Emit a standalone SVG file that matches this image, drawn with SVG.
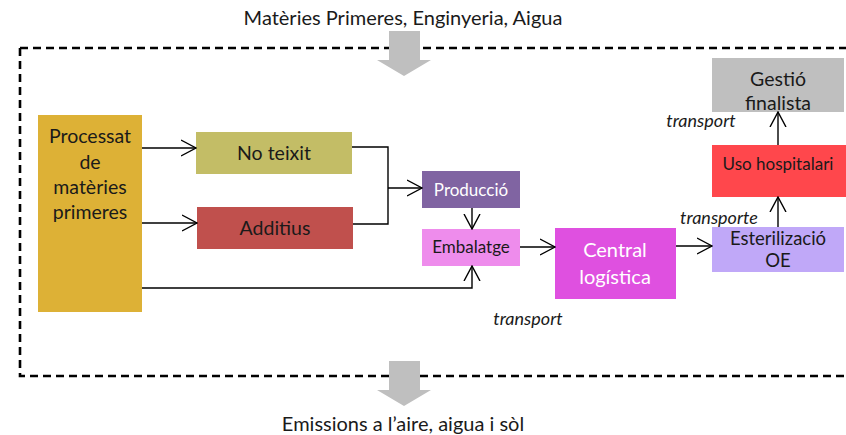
<svg xmlns="http://www.w3.org/2000/svg" width="846" height="435" viewBox="0 0 846 435">
<style>
text{font-family:Lato,"Open Sans","Liberation Sans",sans-serif;text-anchor:middle;fill:#1a1a1a}
.c{stroke:#000;stroke-width:1.4;fill:none}
.it{font-style:italic;font-size:18px}
.w{fill:#fff}
</style>
<defs>
<marker id="a" viewBox="0 0 16 18" refX="15" refY="9" markerWidth="16" markerHeight="18" markerUnits="userSpaceOnUse" orient="auto">
<path d="M0,1 L15,9 L0,17" fill="none" stroke="#000" stroke-width="1.4"/>
</marker>
</defs>
<rect width="846" height="435" fill="#fff"/>
<text x="403" y="25" font-size="20">Matèries Primeres, Enginyeria, Aigua</text>
<text x="403" y="431" font-size="20">Emissions a l’aire, aigua i sòl</text>
<path d="M20,48 H846 M20,48 V376 H846" fill="none" stroke="#000" stroke-width="2.6" stroke-dasharray="8,5"/>
<g id="arrow-in"><path d="M389,31 H420 V60 H431 L404,76 L377,60 H389 Z" fill="#bfbfbf"/></g>
<g id="arrow-out"><path d="M389,361 H420 V390 H431 L404,406 L377,390 H389 Z" fill="#bfbfbf"/></g>
<g id="processat"><rect x="38" y="115" width="104" height="197" fill="#DDB136"/>
<text x="90" y="143" font-size="19.5">Processat</text><text x="90" y="169" font-size="19.5">de</text><text x="90" y="194" font-size="19.5">matèries</text><text x="90" y="219" font-size="19.5">primeres</text></g>
<g id="noteixit"><rect x="196" y="132" width="156" height="42" fill="#C3BD66"/><text x="274" y="160" font-size="19.5">No teixit</text></g>
<g id="additius"><rect x="197" y="207" width="156" height="42" fill="#C0504D"/><text x="275" y="235" font-size="19.5">Additius</text></g>
<g id="produccio"><rect x="422" y="171" width="98" height="37" fill="#8064A2"/><text x="471" y="196" font-size="17" class="w">Producció</text></g>
<g id="embalatge"><rect x="422" y="229" width="98" height="37" fill="#EE8CEC"/><text x="471" y="253" font-size="17">Embalatge</text></g>
<g id="central"><rect x="555" y="228" width="121" height="71" fill="#DF50E0"/><text x="615" y="257" font-size="20" class="w">Central</text><text x="615" y="284" font-size="20" class="w">logística</text></g>
<g id="esteril"><rect x="712" y="227" width="132" height="45" fill="#C0A8F8"/><text x="778" y="245" font-size="18.5">Esterilizació</text><text x="778" y="267" font-size="18.5">OE</text></g>
<g id="uso"><rect x="712" y="145" width="134" height="52" fill="#FF474C"/><text x="778" y="170" font-size="17">Uso hospitalari</text></g>
<g id="gestio"><rect x="712" y="58" width="132" height="54" fill="#BFBFBF"/><text x="778" y="86" font-size="19.5">Gestió</text><text x="778" y="110" font-size="19.5">finalista</text></g>
<g id="connectors">
<path class="c" d="M142,148 H196" marker-end="url(#a)"/>
<path class="c" d="M142,223 H197" marker-end="url(#a)"/>
<path class="c" d="M352,147 H388 V224 H353"/>
<path class="c" d="M388,188 H422" marker-end="url(#a)"/>
<path class="c" d="M472,208 V229" marker-end="url(#a)"/>
<path class="c" d="M142,288 H472 V266" marker-end="url(#a)"/>
<path class="c" d="M520,247 H555" marker-end="url(#a)"/>
<path class="c" d="M676,246 H712" marker-end="url(#a)"/>
<path class="c" d="M778,227 V197" marker-end="url(#a)"/>
<path class="c" d="M778,145 V112" marker-end="url(#a)"/>
<text x="528" y="325" class="it">transport</text>
<text x="719" y="224" class="it">transporte</text>
<text x="701" y="127" class="it">transport</text>
</g>
</svg>
